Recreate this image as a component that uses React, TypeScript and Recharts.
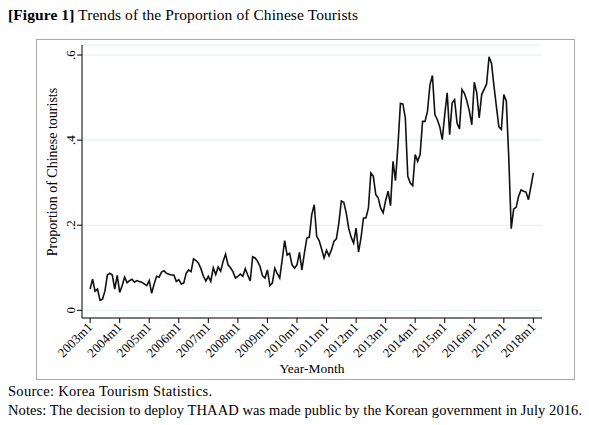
import React from 'react';
import { LineChart, Line, XAxis, YAxis, CartesianGrid } from 'recharts';

// Monthly share of Chinese visitors, 2003m1 .. 2018m1 (one row per year)
const proportion = [
  0.050, 0.073, 0.045, 0.050, 0.024, 0.026, 0.045, 0.083, 0.087, 0.083, 0.050, 0.082, // 2003
  0.042, 0.058, 0.078, 0.065, 0.070, 0.073, 0.066, 0.070, 0.068, 0.066, 0.062, 0.058, // 2004
  0.070, 0.040, 0.062, 0.080, 0.078, 0.090, 0.093, 0.087, 0.085, 0.083, 0.083, 0.068, // 2005
  0.072, 0.062, 0.064, 0.087, 0.095, 0.091, 0.121, 0.117, 0.111, 0.098, 0.080, 0.069, // 2006
  0.080, 0.068, 0.100, 0.084, 0.102, 0.092, 0.115, 0.132, 0.107, 0.100, 0.091, 0.076, // 2007
  0.080, 0.085, 0.080, 0.098, 0.083, 0.069, 0.126, 0.123, 0.115, 0.103, 0.081, 0.076, // 2008
  0.095, 0.058, 0.064, 0.099, 0.086, 0.076, 0.119, 0.164, 0.130, 0.134, 0.107, 0.099, // 2009
  0.107, 0.136, 0.095, 0.134, 0.170, 0.172, 0.225, 0.248, 0.174, 0.164, 0.144, 0.123, // 2010
  0.141, 0.128, 0.142, 0.162, 0.168, 0.205, 0.257, 0.254, 0.229, 0.193, 0.172, 0.158, // 2011
  0.193, 0.137, 0.170, 0.217, 0.217, 0.240, 0.323, 0.315, 0.272, 0.264, 0.240, 0.229, // 2012
  0.258, 0.280, 0.246, 0.350, 0.305, 0.387, 0.486, 0.485, 0.452, 0.315, 0.299, 0.293, // 2013
  0.366, 0.350, 0.366, 0.444, 0.444, 0.468, 0.530, 0.552, 0.460, 0.448, 0.431, 0.401, // 2014
  0.460, 0.511, 0.413, 0.487, 0.495, 0.440, 0.426, 0.519, 0.510, 0.492, 0.468, 0.436, // 2015
  0.536, 0.511, 0.452, 0.507, 0.519, 0.532, 0.596, 0.580, 0.527, 0.478, 0.431, 0.425, // 2016
  0.507, 0.492, 0.360, 0.192, 0.238, 0.242, 0.268, 0.283, 0.280, 0.278, 0.260, 0.291, // 2017
  0.323, // 2018
];

const yearLabels = [
  '2003m1', '2004m1', '2005m1', '2006m1', '2007m1', '2008m1', '2009m1', '2010m1',
  '2011m1', '2012m1', '2013m1', '2014m1', '2015m1', '2016m1', '2017m1', '2018m1',
];

const yTicks = [0, 0.2, 0.4, 0.6];
const yTickLabels = ['0', '.2', '.4', '.6'];

const data = proportion.map((v, i) => ({ t: i, value: v }));
const xTicks = yearLabels.map((_, i) => i * 12);

const FONT = '"Liberation Serif", "Times New Roman", serif';

const XTick = ({ x, y, payload }: any) => {
  const px = x + 3;
  const py = y + 3;
  return (
    <text
      x={px}
      y={py}
      transform={`rotate(-45 ${px} ${py})`}
      textAnchor="end"
      fontSize={13}
      fontFamily={FONT}
      fill="#000"
    >
      {yearLabels[Math.round(payload.value / 12)]}
    </text>
  );
};

const YTick = ({ x, y, payload }: any) => {
  const idx = yTicks.indexOf(payload.value);
  return (
    <text
      x={x}
      y={y}
      transform={`rotate(-90 ${x} ${y})`}
      textAnchor="middle"
      fontSize={13}
      fontFamily={FONT}
      fill="#000"
    >
      {yTickLabels[idx]}
    </text>
  );
};

export default function App() {
  return (
    <div style={{ position: 'absolute', left: 0, top: 0, width: 589, height: 425, background: '#fff' }}>
      <LineChart
        width={589}
        height={425}
        data={data}
        margin={{ top: 45, right: 47, bottom: 67, left: 0 }}
        style={{ position: 'absolute', left: 0, top: 0 }}
      >
        <CartesianGrid vertical={false} stroke="#e4eef0" strokeWidth={1} />
        <XAxis
          dataKey="t"
          type="number"
          domain={[-3.3, 183.5]}
          ticks={xTicks}
          interval={0}
          height={40}
          tick={<XTick />}
          tickSize={5}
          axisLine={{ stroke: '#000' }}
          tickLine={{ stroke: '#000' }}
        />
        <YAxis
          type="number"
          domain={[-0.018, 0.6235]}
          ticks={yTicks}
          interval={0}
          width={82}
          tick={<YTick />}
          tickSize={5}
          axisLine={{ stroke: '#000' }}
          tickLine={{ stroke: '#000' }}
        />
        <Line
          type="linear"
          dataKey="value"
          stroke="#111"
          strokeWidth={1.6}
          dot={false}
          isAnimationActive={false}
        />
      </LineChart>
      <svg
        width={589}
        height={425}
        style={{ position: 'absolute', left: 0, top: 0, pointerEvents: 'none' }}
      >
        <text x={8} y={20} fontSize={15.5} fontFamily={FONT} fill="#000" textLength={350} lengthAdjust="spacing">
          <tspan fontWeight="bold">[Figure 1]</tspan> Trends of the Proportion of Chinese Tourists
        </text>
        <rect x={36.5} y={39.5} width={538} height={340} fill="none" stroke="#a9a9a9" strokeWidth={1} />
        <text
          x={52}
          y={172}
          transform="rotate(-90 52 172)"
          textAnchor="middle"
          dominantBaseline="central"
          fontSize={14}
          fontFamily={FONT}
          fill="#000"
        >
          Proportion of Chinese tourists
        </text>
        <text x={312} y={373} textAnchor="middle" fontSize={13.5} fontFamily={FONT} fill="#000">
          Year-Month
        </text>
        <text x={8} y={396} fontSize={14.5} fontFamily={FONT} fill="#000" textLength={204} lengthAdjust="spacing">
          Source: Korea Tourism Statistics.
        </text>
        <text x={8} y={415} fontSize={14.5} fontFamily={FONT} fill="#000" textLength={574} lengthAdjust="spacing">
          Notes: The decision to deploy THAAD was made public by the Korean government in July 2016.
        </text>
      </svg>
    </div>
  );
}
